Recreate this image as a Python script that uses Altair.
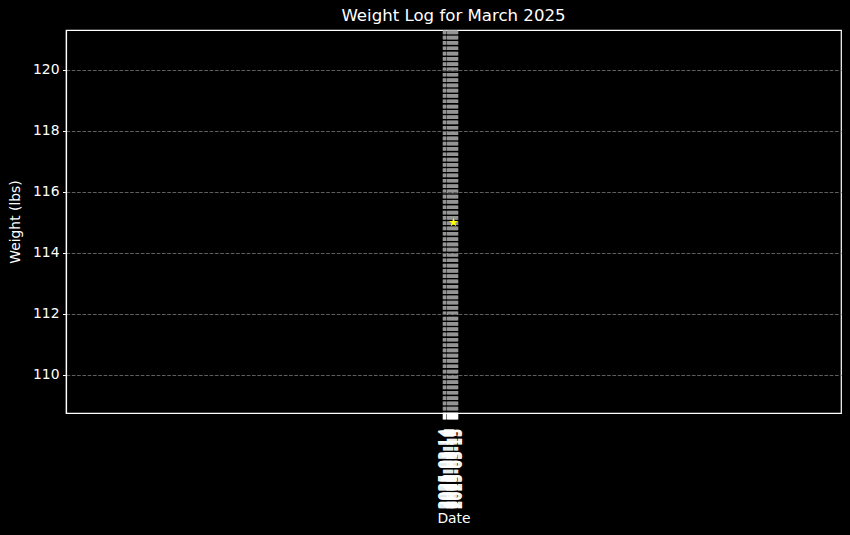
import altair as alt
import pandas as pd

dates = ["2025-03-15T00:00:00Z"]
weights = [115.0]

df = pd.DataFrame({"date": dates, "weight": weights})

center_ms = int(pd.Timestamp("2025-03-15T00:00:00Z").value // 10**6)
day_ms = 24 * 3600 * 1000
x_domain = [center_ms - 2 * day_ms, center_ms + 2 * day_ms]

# crowded x ticks around the single logged date (every 30 s, from -76 to +33 min)
tick_vals = [center_ms + s * 1000 for s in range(-76 * 60, 33 * 60, 30)]

star = "M0,-1L0.24,-0.31L0.95,-0.31L0.38,0.12L0.59,0.81L0,0.38L-0.59,0.81L-0.38,0.12L-0.95,-0.31L-0.24,-0.31Z"

base = alt.Chart(df)

grid_x = base.mark_point(opacity=0).encode(
    x=alt.X("date:T", title="Date",
            scale=alt.Scale(type="utc", domain=x_domain),
            axis=alt.Axis(values=tick_vals, format="%Y-%m-%d", labelAngle=270,
                          grid=True, gridColor="#969696", gridDash=[3.7, 1.6], gridWidth=1.6,
                          labelColor="white", tickColor="white", domainColor="white",
                          titleColor="white", labelFontSize=13.9, titleFontSize=13.9,
                          tickSize=6, tickWidth=1.6, labelPadding=9, titlePadding=3, labelFlush=False,
                          labelOverlap=False, labelBaseline="middle", labelAlign="right")),
    y=alt.Y("weight:Q", title="Weight (lbs)",
            scale=alt.Scale(domain=[108.75, 121.31], nice=False, zero=False),
            axis=alt.Axis(values=[110, 112, 114, 116, 118, 120], grid=True,
                          gridColor="#5e5e5e", gridDash=[3.7, 1.6], gridWidth=1,
                          labelColor="white", tickColor="white", domainColor="white",
                          titleColor="white", labelFontSize=13.9, titleFontSize=13.9,
                          tickSize=3.5, labelPadding=3.5, titlePadding=10)),
)

pts = base.mark_point(shape=star, filled=True, color="yellow", size=90, opacity=1,
                      strokeWidth=0).encode(x=alt.X("date:T"), y="weight:Q")

chart = alt.layer(grid_x, pts).properties(
    width=775, height=383,
    title=alt.TitleParams("Weight Log for March 2025", color="white", fontSize=16.6,
                          font="DejaVu Sans", fontWeight="normal", offset=5),
    background="black",
    padding={"left": 66, "top": 30, "right": 9, "bottom": 122},
    autosize=alt.AutoSizeParams(type="none"),
).configure_view(stroke="white", strokeWidth=1.2, fill="black").configure_axis(
    labelFont="DejaVu Sans", titleFont="DejaVu Sans", titleFontWeight="normal", domainWidth=1.2
)

chart.save("out.html", embed_options={"renderer": "svg", "actions": False})
